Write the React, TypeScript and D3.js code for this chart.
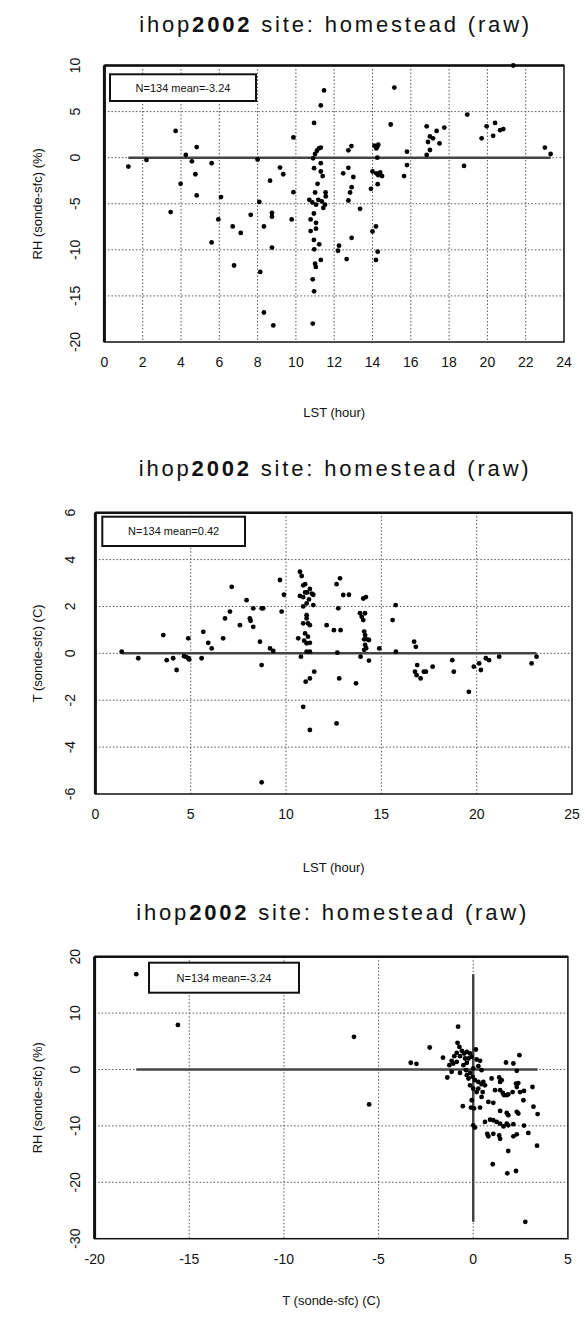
import React from "react";
import * as d3 from "d3";

// ---------- data ----------
const TITLE_PRE = "ihop";
const TITLE_YEAR = "2002";
const TITLE_POST = " site: homestead (raw)";

// Panel 1: LST (hour) vs RH (sonde-sfc) (%)
const p1Lst = [1.25,2.2,3.72,4.25,4.82,4.57,4.75,5.6,8.0,9.17,9.34,9.87,10.95,11.3,11.47,10.9,11.0,11.1,11.2,11.3,11.3,10.95,11.3,11.4,12.47,12.74,12.74,12.9,13.0,15.14,14.95,14.2,14.25,14.3,14.1,14.25,14.0,14.2,14.3,14.4,14.5,15.8,15.8,15.65,16.83,17.0,17.16,16.9,17.35,17.75,17.5,17.0,16.83,18.95,18.78,19.7,19.96,20.4,20.3,20.66,20.83,21.35,23.0,23.3,3.98,4.82,6.09,3.46,5.95,6.7,7.12,5.6,6.77,8.09,7.64,8.75,8.75,8.33,8.65,9.87,9.78,8.75,8.14,8.33,8.82,11.13,11.0,11.55,10.7,11.17,11.56,10.86,11.05,11.35,11.52,11.43,10.94,10.77,11.05,11.05,10.77,10.94,11.22,10.96,11.3,11.0,11.04,10.88,10.95,10.88,12.2,12.91,12.83,12.74,13.35,12.91,12.25,12.65,14.27,13.92,14.18,14.0,14.27,14.18];
const p1Rh = [-0.97,-0.25,2.9,0.3,1.15,-0.4,-1.8,-0.6,-0.2,-1.07,-1.8,2.2,3.77,5.67,7.3,-0.07,0.4,0.75,1.0,1.1,-0.6,-1.14,-1.5,-2.0,-1.7,-1.1,0.8,1.26,-2.1,7.6,3.6,1.0,1.2,1.4,1.3,0,-1.5,-1.7,-1.9,-1.6,-2.0,0.65,-0.8,-2.0,3.4,2.3,2.1,1.7,2.9,3.27,1.55,0.83,0.3,4.67,-0.9,2.1,3.4,3.77,2.37,2.98,3.1,10,1.1,0.4,-2.84,-4.1,-4.28,-5.9,-6.7,-7.46,-8.17,-9.2,-11.7,-4.8,-6.2,-6.0,-6.4,-7.46,-2.5,-3.74,-6.7,-9.76,-12.4,-16.8,-18.2,-2.84,-3.78,-3.78,-4.57,-4.57,-4.2,-4.86,-5.1,-4.75,-5.1,-5.45,-6.06,-6.7,-7.07,-7.7,-7.96,-8.93,-9.4,-9.95,-11.1,-11.5,-11.85,-13.2,-14.5,-18.0,-10.1,-3.2,-3.78,-4.65,-5.55,-8.7,-9.55,-11.0,-2.88,-3.38,-7.46,-8.0,-10.2,-11.1];

// Panel 2: LST (hour) vs T (sonde-sfc) (C)
const p2Lst = [7.15,9.68,10.73,10.82,9.89,10.9,11.0,11.25,11.1,11.35,11.2,12.65,12.83,13.0,13.3,14.19,7.93,7.06,6.8,7.58,8.1,8.14,8.28,8.72,8.8,8.28,9.77,3.56,4.87,5.66,5.92,6.1,6.7,8.63,9.16,9.33,1.38,2.25,3.74,4.08,4.26,4.65,4.75,4.87,4.92,5.57,8.72,10.78,10.64,10.9,11.08,10.9,10.73,11.0,11.43,11.43,11.08,11.08,11.15,10.9,11.25,11.0,11.15,11.08,11.25,10.95,11.25,11.08,11.03,11.25,11.48,10.9,11.25,8.72,12.13,12.51,12.69,12.79,12.65,12.74,12.86,14.05,13.88,14.14,14.05,13.97,14.1,14.15,14.1,14.25,14.35,14.15,14.2,14.1,13.91,14.35,14.89,15.75,15.59,15.76,13.67,16.72,16.81,16.88,16.76,16.85,17.06,17.23,17.34,17.69,18.72,18.8,19.59,19.85,20.13,20.22,20.48,20.65,21.18,22.88,23.14];
const p2T = [2.84,3.13,3.48,3.3,2.5,2.9,2.95,2.75,2.6,2.55,2.3,2.95,3.2,2.49,2.5,2.4,2.27,1.78,1.49,1.2,1.49,1.39,1.92,1.92,1.92,1.13,1.78,0.78,0.64,0.92,0.45,0.21,0.64,0.5,0.21,0.1,0.07,-0.21,-0.29,-0.21,-0.71,-0.12,-0.15,-0.21,-0.26,-0.21,-0.5,-0.14,0.64,2.0,2.13,2.4,2.45,2.6,2.5,2.06,1.63,1.49,1.28,1.28,1.2,0.85,0.71,0.43,0.45,0.54,0.07,0.07,-1.21,-1.07,-0.78,-2.28,-3.27,-5.5,1.2,0.99,0.03,-1.07,-2.99,1.92,0.99,2.34,1.71,1.71,1.42,1.56,0.93,0.78,0.6,0.6,0.57,0.36,0.22,0.15,-0.14,-0.31,0.21,2.06,1.42,0.07,-1.28,0.5,0.28,-0.5,-0.78,-0.93,-1.07,-0.78,-0.78,-0.57,-0.29,-0.78,-1.64,-0.57,-0.43,-0.71,-0.21,-0.29,-0.14,-0.43,-0.14];

// Panel 3: T (sonde-sfc) (C) vs RH (sonde-sfc) (%)
const p3T = [-17.8,-15.6,-6.3,-5.5,-3.3,-3.0,-2.3,-1.6,-0.8,-0.83,-0.73,-0.87,-0.6,-0.48,-0.34,-0.17,0.14,-0.25,-0.43,-0.7,-1.0,-1.14,-1.26,-1.05,-0.87,-0.52,-0.34,-0.08,0.18,0.36,0.27,0.44,0.0,-0.17,-0.38,-1.14,-1.37,-0.7,-0.34,-0.25,-0.03,0.09,0.27,0.44,-0.17,0.53,0.0,0.18,-0.08,0.04,-0.55,-0.12,0.36,0.5,0.62,0.0,0.09,0.97,1.37,1.42,1.5,1.15,1.42,1.56,1.63,1.77,1.85,2.08,2.26,2.38,2.3,2.47,2.68,2.12,1.73,2.3,2.44,3.13,1.06,0.8,0.44,0.27,1.42,1.77,1.85,2.3,2.38,2.65,3.18,3.4,0.62,0.89,1.06,1.24,1.42,1.6,1.77,1.85,2.12,2.68,2.91,0.74,0.8,1.06,1.37,1.42,2.12,2.3,3.37,1.85,1.03,1.8,2.26,2.75];
const p3Rh = [16.9,7.9,5.8,-6.2,1.2,1.0,3.9,2.1,7.6,4.73,4.0,2.96,3.3,2.84,3.1,2.84,3.55,1.95,1.95,2.37,2.37,1.54,0.77,1.06,1.36,0.77,1.18,2.25,1.77,1.54,0.59,-0.12,0.18,-0.6,-0.12,-0.42,-1.42,-0.6,-1.0,-1.6,-1.3,-1.9,-2.2,-2.6,-2.8,-2.2,-3.4,-4.0,-5.45,-6.9,-6.5,-6.75,-6.75,-4.0,-2.8,-9.9,-10.3,-1.6,-1.42,-2.2,-1.9,-3.67,-3.67,-4.15,-4.56,-4.56,-4.4,-4.0,-2.5,-2.4,-3.1,-4.0,-3.8,1.06,1.24,-0.24,2.54,-3.1,-5.9,-5.75,-4.86,-3.4,-7.35,-7.7,-8.1,-7.5,-7.8,-5.45,-6.6,-7.9,-9.3,-8.9,-9.0,-9.3,-9.6,-10.1,-9.6,-9.9,-9.7,-9.95,-11.25,-11.4,-11.85,-11.4,-11.7,-12.3,-11.85,-11.5,-13.5,-14.45,-16.8,-18.4,-18.0,-27];

const p1XTicks = [0,2,4,6,8,10,12,14,16,18,20,22,24];
const p1YTicks = [-20,-15,-10,-5,0,5,10];
const p2XTicks = [0,5,10,15,20,25];
const p2YTicks = [-6,-4,-2,0,2,4,6];
const p3XTicks = [-20,-15,-10,-5,0,5];
const p3YTicks = [-30,-20,-10,0,10,20];

const LEGEND_1 = "N=134 mean=-3.24";
const LEGEND_2 = "N=134 mean=0.42";
const LEGEND_3 = "N=134 mean=-3.24";

// ---------- drawing ----------
const FONT = "'Liberation Sans', Arial, Helvetica, sans-serif";

type PanelProps = {
  xs: number[]; ys: number[];
  xDomain: [number, number]; yDomain: [number, number];
  xTicks: number[]; yTicks: number[];
  left: number; right: number; top: number; bottom: number;
  titleY: number; xLabel: string; yLabel: string; xLabelY: number;
  legend: string; legendBox: [number, number, number, number];
  yTickX: number; vZero?: boolean;
};

function Panel(p: PanelProps) {
  const x = d3.scaleLinear().domain(p.xDomain).range([p.left, p.right]);
  const y = d3.scaleLinear().domain(p.yDomain).range([p.bottom, p.top]);
  const [xmin, xmax] = d3.extent(p.xs) as [number, number];
  const [ymin, ymax] = d3.extent(p.ys) as [number, number];
  const cx = (p.left + p.right) / 2;
  const cy = (p.top + p.bottom) / 2;
  const [lx0, ly0, lx1, ly1] = p.legendBox;
  return (
    <g>
      <text x={cx} y={p.titleY} textAnchor="middle" fontFamily={FONT} fontSize={22} fill="#111"
        textLength={390} lengthAdjust="spacing">
        {TITLE_PRE}<tspan fontWeight="bold">{TITLE_YEAR}</tspan>{TITLE_POST}
      </text>
      {/* grid */}
      {p.xTicks.slice(1, -1).map((t) => (
        <line key={"gx" + t} x1={x(t)} x2={x(t)} y1={p.top} y2={p.bottom}
          stroke="#555" strokeWidth={1} strokeDasharray="1.5,2" />
      ))}
      {p.yTicks.slice(1, -1).map((t) => (
        <line key={"gy" + t} x1={p.left} x2={p.right} y1={y(t)} y2={y(t)}
          stroke="#555" strokeWidth={1} strokeDasharray="1.5,2" />
      ))}
      {/* zero lines */}
      <line x1={x(xmin)} x2={x(xmax)} y1={y(0)} y2={y(0)} stroke="#444" strokeWidth={2.5} />
      {p.vZero && (
        <line x1={x(0)} x2={x(0)} y1={y(ymin)} y2={y(ymax)} stroke="#444" strokeWidth={2.5} />
      )}
      {/* frame */}
      <rect x={p.left} y={p.top} width={p.right - p.left} height={p.bottom - p.top}
        fill="none" stroke="#111" strokeWidth={1.5} />
      <line x1={p.left} x2={p.left} y1={p.top} y2={p.bottom} stroke="#111" strokeWidth={3} />
      <line x1={p.left} x2={p.right} y1={p.top} y2={p.top} stroke="#111" strokeWidth={2.5} />
      {/* points */}
      {p.xs.map((v, i) => (
        <circle key={i} cx={x(v)} cy={y(p.ys[i])} r={2.4} fill="#000" />
      ))}
      {/* legend */}
      <rect x={lx0} y={ly0} width={lx1 - lx0} height={ly1 - ly0} fill="#fff" stroke="#111" strokeWidth={2} />
      <text x={(lx0 + lx1) / 2} y={(ly0 + ly1) / 2 + 4} textAnchor="middle" fontFamily={FONT}
        fontSize={11} fill="#111">{p.legend}</text>
      {/* ticks labels */}
      {p.xTicks.map((t) => (
        <text key={"xt" + t} x={x(t)} y={p.bottom + 25} textAnchor="middle" fontFamily={FONT}
          fontSize={14} fill="#111">{t}</text>
      ))}
      {p.yTicks.map((t) => (
        <text key={"yt" + t} transform={`translate(${p.yTickX},${y(t)}) rotate(-90)`} textAnchor="middle"
          fontFamily={FONT} fontSize={14} fill="#111">{t}</text>
      ))}
      <text x={cx} y={p.xLabelY} textAnchor="middle" fontFamily={FONT} fontSize={13} fill="#111">{p.xLabel}</text>
      <text transform={`translate(42,${cy}) rotate(-90)`} textAnchor="middle" fontFamily={FONT}
        fontSize={13} fill="#111">{p.yLabel}</text>
    </g>
  );
}

export default function App() {
  return (
    <svg width={585} height={1320} style={{ position: "absolute", left: 0, top: 0, background: "#fff" }}>
      <rect width={585} height={1320} fill="#fff" />
      <Panel xs={p1Lst} ys={p1Rh} xDomain={[0, 24]} yDomain={[-20, 10]} xTicks={p1XTicks} yTicks={p1YTicks}
        left={104.4} right={564} top={65.5} bottom={342} titleY={32} xLabel="LST (hour)" xLabelY={417}
        yLabel="RH (sonde-sfc) (%)" legend={LEGEND_1} legendBox={[110, 74.3, 256, 101]} yTickX={80} />
      <Panel xs={p2Lst} ys={p2T} xDomain={[0, 25]} yDomain={[-6, 6]} xTicks={p2XTicks} yTicks={p2YTicks}
        left={95.4} right={572} top={512.7} bottom={794} titleY={476} xLabel="LST (hour)" xLabelY={872}
        yLabel="T (sonde-sfc) (C)" legend={LEGEND_2} legendBox={[102.3, 516.7, 245, 546]} yTickX={75} />
      <Panel xs={p3T} ys={p3Rh} xDomain={[-20, 5]} yDomain={[-30, 20]} xTicks={p3XTicks} yTicks={p3YTicks}
        left={94.6} right={567.9} top={956.7} bottom={1238.7} titleY={920} xLabel="T (sonde-sfc) (C)" xLabelY={1305}
        yLabel="RH (sonde-sfc) (%)" legend={LEGEND_3} legendBox={[149, 962.7, 299, 992.7]} yTickX={80} vZero />
    </svg>
  );
}
